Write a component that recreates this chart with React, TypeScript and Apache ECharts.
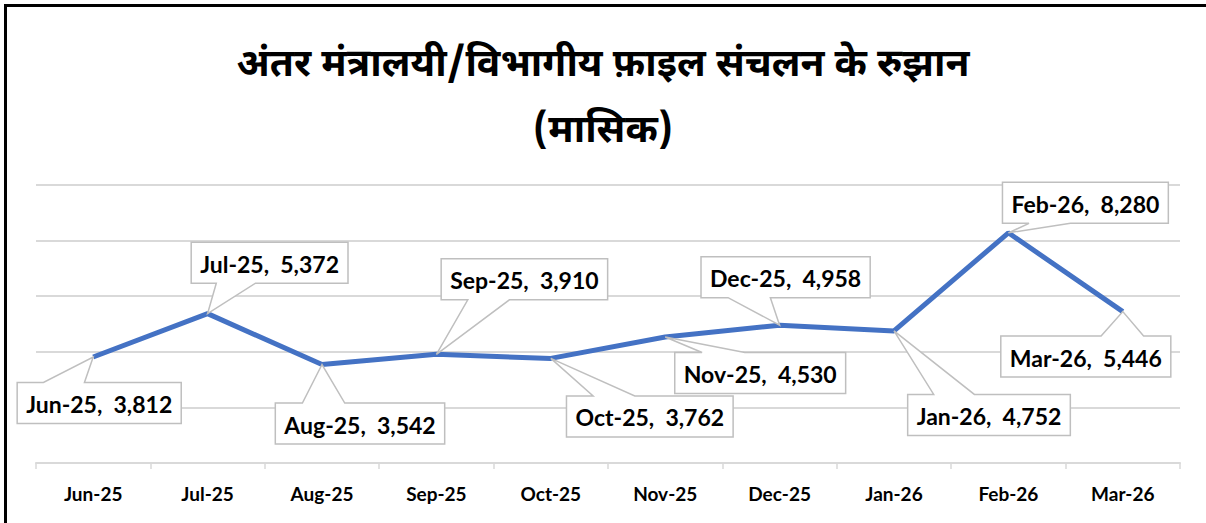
import React, { useEffect, useRef } from "react";
import * as echarts from "echarts";

const titleLine1 = "अंतर मंत्रालयी/विभागीय फ़ाइल संचलन के रुझान";
const titleLine2 = "(मासिक)";
const months = ["Jun-25", "Jul-25", "Aug-25", "Sep-25", "Oct-25", "Nov-25", "Dec-25", "Jan-26", "Feb-26", "Mar-26"];
const files = [3812, 5372, 3542, 3910, 3762, 4530, 4958, 4752, 8280, 5446];
// callout box centre offsets from each point (layout only)
const labelDx = [6, 62, 38, 88, 99, 95, 6, 95, 77, -37];
const labelDy = [46, -51, 59, -75, 58, 36, -48, 84, -30, 45];

const LABEL_FONT = "bold 23px Lato, 'Open Sans', sans-serif";
let measureCtx: CanvasRenderingContext2D | null = null;
function measure(t: string): number {
  if (!measureCtx) measureCtx = document.createElement("canvas").getContext("2d");
  if (!measureCtx) return t.length * 11;
  measureCtx.font = LABEL_FONT;
  return measureCtx.measureText(t).width;
}

export default function App() {
  const ref = useRef<HTMLDivElement>(null);
  useEffect(() => {
    if (!ref.current) return;
    const chart = echarts.init(ref.current, undefined, { renderer: "svg" });
    const labelTexts = months.map((m, i) => `${m},\u00a0\u00a0${files[i].toLocaleString("en-US")}`);
    chart.setOption({
      animation: false,
      backgroundColor: "#ffffff",
      title: {
        text: titleLine1 + "\n" + titleLine2,
        left: "center",
        top: 28,
        textStyle: {
          fontSize: 39,
          fontWeight: "bold",
          color: "#000",
          lineHeight: 66,
          fontFamily: "'Noto Sans Devanagari', 'Noto Sans', sans-serif",
        },
      },
      graphic: [
        { type: "line", shape: { x1: 4, y1: 5.5, x2: 1206, y2: 5.5 }, style: { stroke: "#000", lineWidth: 3 } },
        { type: "line", shape: { x1: 5.5, y1: 4, x2: 5.5, y2: 523 }, style: { stroke: "#000", lineWidth: 3 } },
      ],
      grid: { left: 36, right: 26, top: 185, bottom: 60, containLabel: false },
      xAxis: {
        type: "category",
        data: months,
        boundaryGap: true,
        axisLine: { lineStyle: { color: "#d9d9d9", width: 2 } },
        axisTick: { show: true, length: 6, lineStyle: { color: "#d9d9d9", width: 1.5 } },
        axisLabel: {
          margin: 21,
          fontSize: 19,
          fontWeight: "bold",
          color: "#000",
          fontFamily: "Lato, sans-serif",
        },
      },
      yAxis: {
        type: "value",
        min: 0,
        max: 10000,
        interval: 2000,
        axisLabel: { show: false },
        axisLine: { show: false },
        axisTick: { show: false },
        splitLine: { lineStyle: { color: "#d9d9d9", width: 2 } },
      },
      series: [
        {
          type: "line",
          data: files,
          symbol: "none",
          lineStyle: { color: "#4472c4", width: 5 },
          z: 2,
        },
        {
          type: "custom",
          z: 5,
          data: files.map((v, i) => [i, v]),
          renderItem: (params: any, api: any) => {
            const i = params.dataIndex;
            const pt = api.coord([api.value(0), api.value(1)]);
            const txt = labelTexts[i];
            const w = measure(txt) + 18;
            const h = 41;
            const cx = pt[0] + labelDx[i];
            const cy = pt[1] + labelDy[i];
            const left = cx - w / 2;
            const top = cy - h / 2;
            const right = left + w;
            const bottom = top + h;
            const tipLeft = pt[0] < cx;
            const a = tipLeft ? w * 0.16 : w * 0.59;
            const b = tipLeft ? w * 0.41 : w * 0.84;
            const onTop = pt[1] < top;
            const pts = onTop
              ? [[left, top], [left + a, top], pt, [left + b, top], [right, top], [right, bottom], [left, bottom]]
              : [[left, top], [right, top], [right, bottom], [left + b, bottom], pt, [left + a, bottom], [left, bottom]];
            return {
              type: "group",
              children: [
                {
                  type: "polygon",
                  shape: { points: pts },
                  style: { fill: "#ffffff", stroke: "#bfbfbf", lineWidth: 1.5 },
                },
                {
                  type: "text",
                  x: cx,
                  y: cy + 1,
                  style: {
                    text: txt,
                    fill: "#000",
                    font: LABEL_FONT,
                    align: "center",
                    verticalAlign: "middle",
                  },
                },
              ],
            };
          },
        },
      ],
    });
    return () => chart.dispose();
  }, []);
  return <div ref={ref} style={{ position: "fixed", left: 0, top: 0, width: 1206, height: 523 }} />;
}
